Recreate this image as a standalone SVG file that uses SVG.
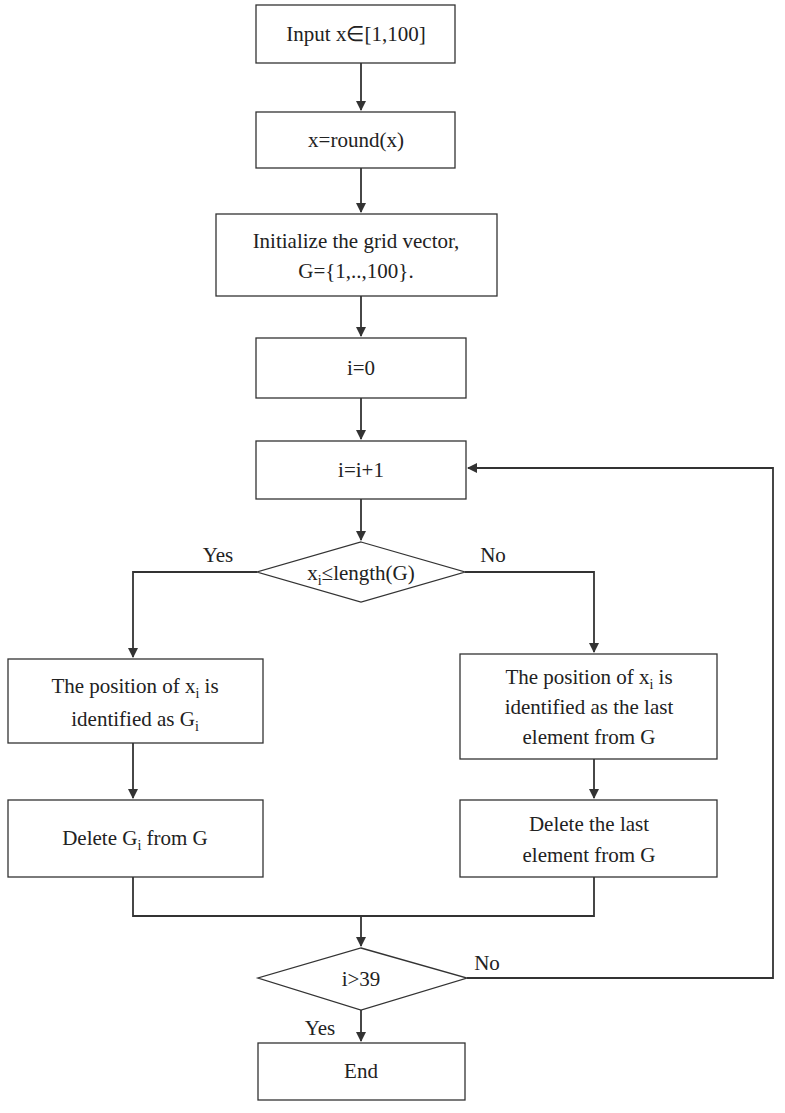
<svg xmlns="http://www.w3.org/2000/svg" width="785" height="1113" viewBox="0 0 785 1113">
<style>
.b{fill:#fff;stroke:#333;stroke-width:1.3}
.c{fill:none;stroke:#333;stroke-width:1.8}
text{font-family:"Liberation Serif",serif;font-size:21px;fill:#222;text-anchor:middle}
.s{font-size:14px}
</style>
<defs><marker id="a" markerWidth="10" markerHeight="10" refX="9" refY="5" orient="auto" markerUnits="userSpaceOnUse"><path d="M0,0L10,5L0,10z" fill="#333"/></marker></defs>
<rect width="785" height="1113" fill="#fff"/>
<g id="connectors">
<path class="c" d="M361,63V110" marker-end="url(#a)"/>
<path class="c" d="M361,168V212" marker-end="url(#a)"/>
<path class="c" d="M361,296V336" marker-end="url(#a)"/>
<path class="c" d="M361,398V439" marker-end="url(#a)"/>
<path class="c" d="M361,499V540" marker-end="url(#a)"/>
<path class="c" d="M257,572H133V657" marker-end="url(#a)"/>
<path class="c" d="M465,572H594V652" marker-end="url(#a)"/>
<path class="c" d="M133,743V798" marker-end="url(#a)"/>
<path class="c" d="M594,759V798" marker-end="url(#a)"/>
<path class="c" d="M133,877V916H594V877"/>
<path class="c" d="M361,916V946" marker-end="url(#a)"/>
<path class="c" d="M467,978H773V468H468" marker-end="url(#a)"/>
<path class="c" d="M361,1010V1041" marker-end="url(#a)"/>
</g>
<g id="n1"><rect class="b" x="256" y="5" width="199" height="58"/><text x="356" y="41">Input x∈[1,100]</text></g>
<g id="n2"><rect class="b" x="256" y="112" width="199" height="56"/><text x="356" y="147">x=round(x)</text></g>
<g id="n3"><rect class="b" x="216" y="214" width="281" height="82"/><text x="356" y="248">Initialize the grid vector,</text><text x="356" y="278">G={1,..,100}.</text></g>
<g id="n4"><rect class="b" x="256" y="338" width="210" height="60"/><text x="361" y="375">i=0</text></g>
<g id="n5"><rect class="b" x="256" y="441" width="210" height="58"/><text x="361" y="477">i=i+1</text></g>
<g id="d1"><polygon class="b" points="361,542 465,572 361,602 257,572"/><text x="361" y="580">x<tspan class="s" dy="5">i</tspan><tspan dy="-5">≤length(G)</tspan></text></g>
<g id="n6"><rect class="b" x="8" y="659" width="255" height="84"/><text x="135" y="693">The position of x<tspan class="s" dy="5">i</tspan><tspan dy="-5"> is</tspan></text><text x="135" y="726">identified as G<tspan class="s" dy="5">i</tspan></text></g>
<g id="n7"><rect class="b" x="460" y="654" width="257" height="105"/><text x="589" y="684">The position of x<tspan class="s" dy="5">i</tspan><tspan dy="-5"> is</tspan></text><text x="589" y="714">identified as the last</text><text x="589" y="744">element from G</text></g>
<g id="n8"><rect class="b" x="8" y="800" width="255" height="77"/><text x="135" y="845">Delete G<tspan class="s" dy="5">i</tspan><tspan dy="-5"> from G</tspan></text></g>
<g id="n9"><rect class="b" x="460" y="800" width="257" height="77"/><text x="589" y="831">Delete the last</text><text x="589" y="862">element from G</text></g>
<g id="d2"><polygon class="b" points="361,948 467,978 361,1010 258,978"/><text x="361" y="986">i&gt;39</text></g>
<g id="n10"><rect class="b" x="258" y="1043" width="207" height="57"/><text x="361" y="1078">End</text></g>
<g id="labels"><text x="218" y="562">Yes</text><text x="493" y="562">No</text><text x="487" y="970">No</text><text x="320" y="1035">Yes</text></g>
</svg>
